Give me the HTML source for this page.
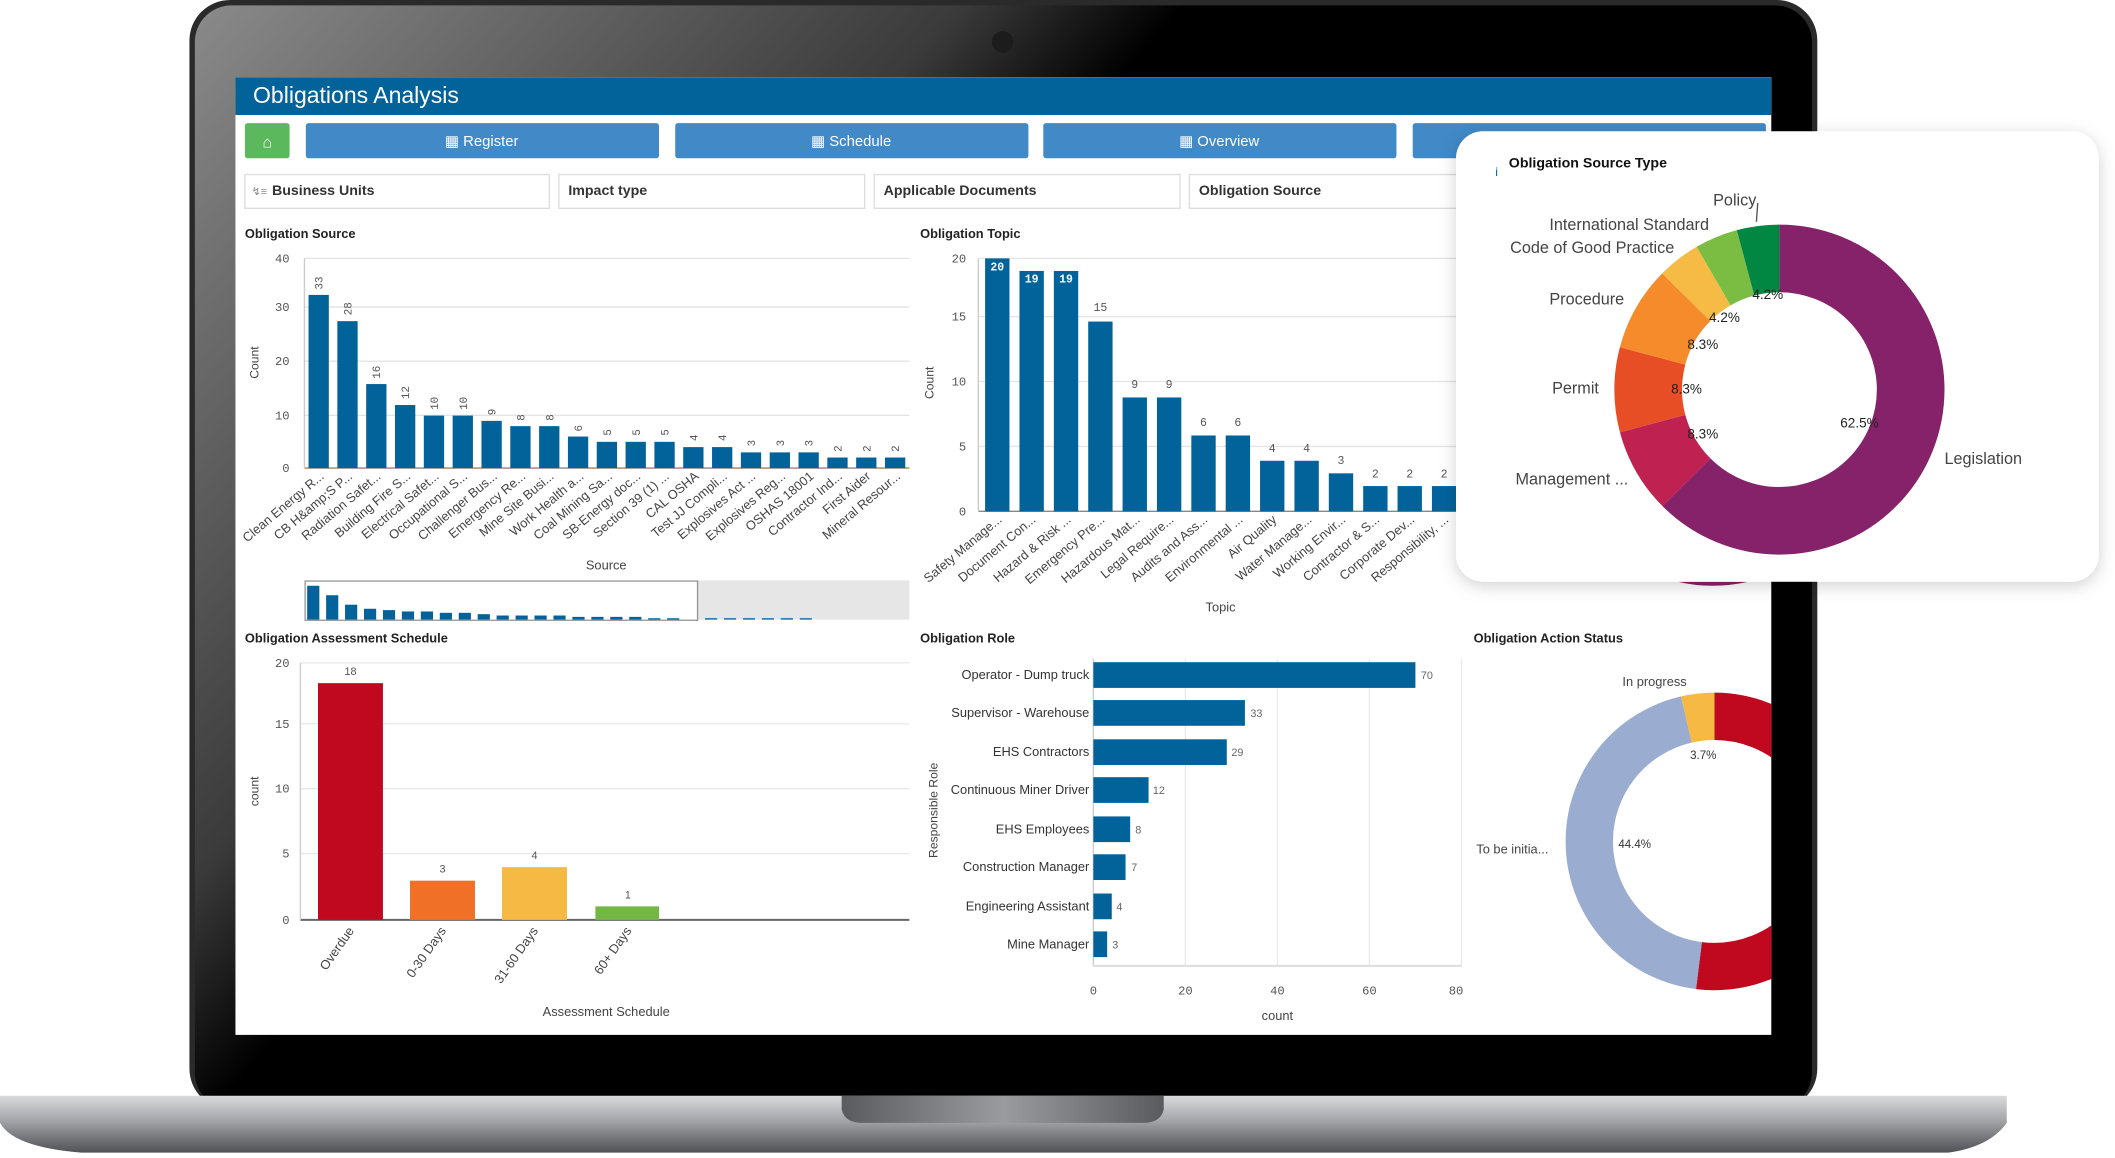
<!DOCTYPE html>
<html><head><meta charset="utf-8"><style>
html,body{margin:0;padding:0;background:#fff;}
svg{display:block;font-family:"Liberation Sans Narrow","Liberation Sans",sans-serif;}
</style></head><body>
<svg width="2115" height="1158" viewBox="0 0 1563 856" preserveAspectRatio="none" xmlns="http://www.w3.org/2000/svg">
<defs>
<linearGradient id="bez" x1="0" y1="0" x2="1" y2="0.6">
<stop offset="0" stop-color="#8a8a8a"/><stop offset="0.35" stop-color="#3a3a3a"/><stop offset="0.45" stop-color="#000"/><stop offset="1" stop-color="#000"/></linearGradient>
<linearGradient id="base" x1="0" y1="0" x2="0" y2="1">
<stop offset="0" stop-color="#d9dadc"/><stop offset="0.4" stop-color="#a9aaad"/><stop offset="0.7" stop-color="#7b7c80"/><stop offset="1" stop-color="#505155"/></linearGradient>
<linearGradient id="notch" x1="0" y1="0" x2="1" y2="0">
<stop offset="0" stop-color="#5a5b5e"/><stop offset="0.5" stop-color="#9a9b9e"/><stop offset="1" stop-color="#5a5b5e"/></linearGradient>
<clipPath id="scr"><rect x="174" y="57" width="1135" height="708"/></clipPath>
<filter id="sh" x="-10%" y="-10%" width="120%" height="130%"><feDropShadow dx="0" dy="3" stdDeviation="6" flood-color="#000" flood-opacity="0.18"/></filter>
</defs>
<!-- laptop -->
<rect x="140" y="0" width="1203" height="820" rx="30" fill="#2a2a2a"/>
<rect x="144" y="4" width="1195" height="816" rx="27" fill="url(#bez)"/>
<circle cx="741" cy="31" r="8" fill="#1c1c1c"/>
<path d="M0 810 L1483 810 L1483 830 Q1470 848 1440 852 L60 852 Q10 848 0 830 Z" fill="url(#base)"/>
<path d="M622 810 L860 810 L860 820 Q858 830 845 830 L637 830 Q624 830 622 820 Z" fill="url(#notch)"/>
<!-- screen -->
<rect x="174" y="57" width="1135" height="708" fill="#fff"/>
<g clip-path="url(#scr)">
<rect x="174" y="57" width="1135" height="28" fill="#02639b"/>
<text x="187" y="76" font-size="17" fill="#fff">Obligations Analysis</text>
<rect x="181" y="91" width="33" height="26" rx="2" fill="#5cb85c"/>
<text x="197.5" y="109" font-size="12" fill="#fff" text-anchor="middle">⌂</text>
<g font-size="11" fill="#fff" text-anchor="middle">
<rect x="226" y="91" width="261" height="26" rx="2" fill="#4189c7"/><text x="356" y="108">▦ Register</text>
<rect x="499" y="91" width="261" height="26" rx="2" fill="#4189c7"/><text x="629" y="108">▦ Schedule</text>
<rect x="771" y="91" width="261" height="26" rx="2" fill="#4189c7"/><text x="901" y="108">▦ Overview</text>
<rect x="1044" y="91" width="261" height="26" rx="2" fill="#4189c7"/>
</g>
<g font-size="10.5" fill="#333" font-weight="bold">
<rect x="181" y="129" width="225" height="25" fill="#fff" stroke="#ddd"/><text x="201" y="144">Business Units</text><text x="186" y="144" font-size="8" fill="#888" font-weight="normal">↯≡</text>
<rect x="413" y="129" width="226" height="25" fill="#fff" stroke="#ddd"/><text x="420" y="144">Impact type</text>
<rect x="646" y="129" width="226" height="25" fill="#fff" stroke="#ddd"/><text x="653" y="144">Applicable Documents</text>
<rect x="879" y="129" width="226" height="25" fill="#fff" stroke="#ddd"/><text x="886" y="144">Obligation Source</text>
</g>
<!-- chart 1 -->
<text x="181" y="176" font-size="9.5" font-weight="bold" fill="#222">Obligation Source</text>
<g stroke="#e4e4e4" stroke-width="1"><line x1="225" y1="191" x2="672" y2="191"/><line x1="225" y1="227" x2="672" y2="227"/><line x1="225" y1="267" x2="672" y2="267"/><line x1="225" y1="307" x2="672" y2="307"/></g>
<line x1="225" y1="346" x2="672" y2="346" stroke="#888"/>
<line x1="225" y1="191" x2="225" y2="346" stroke="#ccc"/>
<g font-size="9" fill="#555" font-family="Liberation Mono,monospace" text-anchor="end"><text x="214" y="194">40</text><text x="214" y="230">30</text><text x="214" y="270">20</text><text x="214" y="310">10</text><text x="214" y="349">0</text></g>
<text transform="translate(191 268) rotate(-90)" font-size="9" fill="#444" text-anchor="middle">Count</text>
<g fill="#02639b">
<rect x="228" y="218" width="15" height="128"/><rect x="249.3" y="237.4" width="15" height="108.6"/><rect x="270.6" y="283.9" width="15" height="62.1"/><rect x="291.9" y="299.4" width="15" height="46.6"/><rect x="313.2" y="307.2" width="15" height="38.8"/><rect x="334.5" y="307.2" width="15" height="38.8"/><rect x="355.8" y="311.1" width="15" height="34.9"/><rect x="377.1" y="315" width="15" height="31"/><rect x="398.4" y="315" width="15" height="31"/><rect x="419.7" y="322.7" width="15" height="23.3"/><rect x="441" y="326.6" width="15" height="19.4"/><rect x="462.3" y="326.6" width="15" height="19.4"/><rect x="483.6" y="326.6" width="15" height="19.4"/><rect x="504.9" y="330.5" width="15" height="15.5"/><rect x="526.2" y="330.5" width="15" height="15.5"/><rect x="547.5" y="334.4" width="15" height="11.6"/><rect x="568.8" y="334.4" width="15" height="11.6"/><rect x="590.1" y="334.4" width="15" height="11.6"/><rect x="611.4" y="338.2" width="15" height="7.8"/><rect x="632.7" y="338.2" width="15" height="7.8"/><rect x="654" y="338.2" width="15" height="7.8"/>
</g>
<g font-size="8" fill="#555" font-family="Liberation Mono,monospace">
<text transform="translate(238.5 214) rotate(-90)">33</text><text transform="translate(259.8 233) rotate(-90)">28</text><text transform="translate(281 280) rotate(-90)">16</text><text transform="translate(302.4 295) rotate(-90)">12</text><text transform="translate(323.7 303) rotate(-90)">10</text><text transform="translate(345 303) rotate(-90)">10</text><text transform="translate(366.3 307) rotate(-90)">9</text><text transform="translate(387.6 311) rotate(-90)">8</text><text transform="translate(408.9 311) rotate(-90)">8</text><text transform="translate(430.2 319) rotate(-90)">6</text><text transform="translate(451.5 322) rotate(-90)">5</text><text transform="translate(472.8 322) rotate(-90)">5</text><text transform="translate(494.1 322) rotate(-90)">5</text><text transform="translate(515.4 326) rotate(-90)">4</text><text transform="translate(536.7 326) rotate(-90)">4</text><text transform="translate(558 330) rotate(-90)">3</text><text transform="translate(579.3 330) rotate(-90)">3</text><text transform="translate(600.6 330) rotate(-90)">3</text><text transform="translate(621.9 334) rotate(-90)">2</text><text transform="translate(643.2 334) rotate(-90)">2</text><text transform="translate(664.5 334) rotate(-90)">2</text>
</g>
<g font-size="9.5" fill="#444" text-anchor="end">
<text transform="translate(240 353) rotate(-40)">Clean Energy R...</text><text transform="translate(261 353) rotate(-40)">CB H&amp;amp;S P...</text><text transform="translate(282 353) rotate(-40)">Radiation Safet...</text><text transform="translate(304 353) rotate(-40)">Building Fire S...</text><text transform="translate(325 353) rotate(-40)">Electrical Safet...</text><text transform="translate(346 353) rotate(-40)">Occupational S...</text><text transform="translate(368 353) rotate(-40)">Challenger Bus...</text><text transform="translate(389 353) rotate(-40)">Emergency Re...</text><text transform="translate(410 353) rotate(-40)">Mine Site Busi...</text><text transform="translate(432 353) rotate(-40)">Work Health a...</text><text transform="translate(453 353) rotate(-40)">Coal Mining Sa...</text><text transform="translate(474 353) rotate(-40)">SB-Energy doc...</text><text transform="translate(495 353) rotate(-40)">Section 39 (1) ...</text><text transform="translate(517 353) rotate(-40)">CAL OSHA</text><text transform="translate(538 353) rotate(-40)">Test JJ Compli...</text><text transform="translate(559 353) rotate(-40)">Explosives Act ...</text><text transform="translate(581 353) rotate(-40)">Explosives Reg...</text><text transform="translate(602 353) rotate(-40)">OSHAS 18001</text><text transform="translate(623 353) rotate(-40)">Contractor Ind...</text><text transform="translate(644 353) rotate(-40)">First Aider</text><text transform="translate(666 353) rotate(-40)">Mineral Resour...</text>
</g>
<text x="448" y="421" font-size="9.5" fill="#444" text-anchor="middle">Source</text>
<rect x="515" y="429" width="157" height="29" fill="#e6e6e6"/>
<rect x="225.5" y="429.5" width="290" height="29" fill="none" stroke="#999"/>
<g fill="#02639b"><rect x="227" y="433" width="9" height="25"/><rect x="241" y="440" width="9" height="18"/><rect x="255" y="447" width="9" height="11"/><rect x="269" y="450" width="9" height="8"/><rect x="283" y="451" width="9" height="7"/><rect x="297" y="452" width="9" height="6"/><rect x="311" y="452" width="9" height="6"/><rect x="325" y="453" width="9" height="5"/><rect x="339" y="453" width="9" height="5"/><rect x="353" y="454" width="9" height="4"/><rect x="367" y="455" width="9" height="3"/><rect x="381" y="455" width="9" height="3"/><rect x="395" y="455" width="9" height="3"/><rect x="409" y="455" width="9" height="3"/><rect x="423" y="456" width="9" height="2"/><rect x="437" y="456" width="9" height="2"/><rect x="451" y="456" width="9" height="2"/><rect x="465" y="456" width="9" height="2"/><rect x="479" y="457" width="9" height="1"/><rect x="493" y="457" width="9" height="1"/><rect x="521" y="457" width="9" height="1"/><rect x="535" y="457" width="9" height="1"/><rect x="549" y="457" width="9" height="1"/><rect x="563" y="457" width="9" height="1"/><rect x="577" y="457" width="9" height="1"/><rect x="591" y="457" width="9" height="1"/></g>
<!-- chart 2 -->
<text x="680" y="176" font-size="9.5" font-weight="bold" fill="#222">Obligation Topic</text>
<g stroke="#e4e4e4"><line x1="723" y1="191" x2="1080" y2="191"/><line x1="723" y1="234" x2="1080" y2="234"/><line x1="723" y1="282" x2="1080" y2="282"/><line x1="723" y1="330" x2="1080" y2="330"/></g>
<line x1="723" y1="378" x2="1080" y2="378" stroke="#888"/>
<line x1="723" y1="191" x2="723" y2="378" stroke="#ccc"/>
<g font-size="9" fill="#555" font-family="Liberation Mono,monospace" text-anchor="end"><text x="714" y="194">20</text><text x="714" y="237">15</text><text x="714" y="285">10</text><text x="714" y="333">5</text><text x="714" y="381">0</text></g>
<text transform="translate(690 283) rotate(-90)" font-size="9" fill="#444" text-anchor="middle">Count</text>
<g fill="#02639b">
<rect x="728" y="191" width="18" height="187"/><rect x="753.4" y="200.3" width="18" height="177.7"/><rect x="778.8" y="200.3" width="18" height="177.7"/><rect x="804.2" y="237.7" width="18" height="140.3"/><rect x="829.6" y="293.8" width="18" height="84.2"/><rect x="855" y="293.8" width="18" height="84.2"/><rect x="880.4" y="321.9" width="18" height="56.1"/><rect x="905.8" y="321.9" width="18" height="56.1"/><rect x="931.2" y="340.6" width="18" height="37.4"/><rect x="956.6" y="340.6" width="18" height="37.4"/><rect x="982" y="349.9" width="18" height="28.1"/><rect x="1007.4" y="359.3" width="18" height="18.7"/><rect x="1032.8" y="359.3" width="18" height="18.7"/><rect x="1058.2" y="359.3" width="18" height="18.7"/>
</g>
<g font-size="8.5" text-anchor="middle" font-family="Liberation Mono,monospace">
<g fill="#fff" font-weight="bold"><text x="737" y="200">20</text><text x="762.4" y="209">19</text><text x="787.8" y="209">19</text></g>
<g fill="#555"><text x="813.2" y="230">15</text><text x="838.6" y="287">9</text><text x="864" y="287">9</text><text x="889.4" y="315">6</text><text x="914.8" y="315">6</text><text x="940.2" y="334">4</text><text x="965.6" y="334">4</text><text x="991" y="343">3</text><text x="1016.4" y="353">2</text><text x="1041.8" y="353">2</text><text x="1067.2" y="353">2</text></g>
</g>
<g font-size="9.5" fill="#444" text-anchor="end">
<text transform="translate(741 385) rotate(-40)">Safety Manage...</text><text transform="translate(766 385) rotate(-40)">Document Con...</text><text transform="translate(792 385) rotate(-40)">Hazard &amp; Risk ...</text><text transform="translate(817 385) rotate(-40)">Emergency Pre...</text><text transform="translate(843 385) rotate(-40)">Hazardous Mat...</text><text transform="translate(868 385) rotate(-40)">Legal Require...</text><text transform="translate(893 385) rotate(-40)">Audits and Ass...</text><text transform="translate(919 385) rotate(-40)">Environmental ...</text><text transform="translate(944 385) rotate(-40)">Air Quality</text><text transform="translate(970 385) rotate(-40)">Water Manage...</text><text transform="translate(995 385) rotate(-40)">Working Envir...</text><text transform="translate(1020 385) rotate(-40)">Contractor &amp; S...</text><text transform="translate(1046 385) rotate(-40)">Corporate Dev...</text><text transform="translate(1071 385) rotate(-40)">Responsibility, ...</text>
</g>
<text x="902" y="452" font-size="9.5" fill="#444" text-anchor="middle">Topic</text>
<!-- chart 3 -->
<text x="181" y="475" font-size="9.5" font-weight="bold" fill="#222">Obligation Assessment Schedule</text>
<g stroke="#e8e8e8"><line x1="222" y1="490" x2="672" y2="490"/><line x1="222" y1="535" x2="672" y2="535"/><line x1="222" y1="583" x2="672" y2="583"/><line x1="222" y1="631" x2="672" y2="631"/></g>
<line x1="222" y1="680" x2="672" y2="680" stroke="#666" stroke-width="1.5"/>
<line x1="222" y1="490" x2="222" y2="680" stroke="#ccc"/>
<g font-size="9" fill="#555" font-family="Liberation Mono,monospace" text-anchor="end"><text x="214" y="493">20</text><text x="214" y="538">15</text><text x="214" y="586">10</text><text x="214" y="634">5</text><text x="214" y="683">0</text></g>
<text transform="translate(191 585) rotate(-90)" font-size="9" fill="#444" text-anchor="middle">count</text>
<rect x="235" y="505" width="48" height="175" fill="#c0091f"/>
<rect x="303" y="651" width="48" height="29" fill="#f07028"/>
<rect x="371" y="641" width="48" height="39" fill="#f6b944"/>
<rect x="440" y="670" width="47" height="10" fill="#73b843"/>
<g font-size="8" fill="#555" text-anchor="middle"><text x="259" y="499">18</text><text x="327" y="645">3</text><text x="395" y="635">4</text><text x="464" y="664">1</text></g>
<g font-size="9.5" fill="#444" text-anchor="end">
<text transform="translate(262 688) rotate(-55)">Overdue</text><text transform="translate(330 688) rotate(-55)">0-30 Days</text><text transform="translate(398 688) rotate(-55)">31-60 Days</text><text transform="translate(467 688) rotate(-55)">60+ Days</text>
</g>
<text x="448" y="751" font-size="9.5" fill="#444" text-anchor="middle">Assessment Schedule</text>
<!-- chart 4 -->
<text x="680" y="475" font-size="9.5" font-weight="bold" fill="#222">Obligation Role</text>
<g stroke="#eaeaea"><line x1="876" y1="487" x2="876" y2="714"/><line x1="944" y1="487" x2="944" y2="714"/><line x1="1012" y1="487" x2="1012" y2="714"/><line x1="1080" y1="487" x2="1080" y2="714"/></g>
<line x1="808" y1="487" x2="808" y2="714" stroke="#ccc"/>
<line x1="808" y1="714" x2="1080" y2="714" stroke="#ddd" stroke-width="1.5"/>
<g fill="#02639b"><rect x="808" y="489.5" width="238" height="19"/><rect x="808" y="517.5" width="112" height="19"/><rect x="808" y="546.5" width="98.6" height="19"/><rect x="808" y="574.5" width="40.8" height="19"/><rect x="808" y="603.5" width="27.2" height="19"/><rect x="808" y="631.5" width="23.8" height="19"/><rect x="808" y="660.5" width="13.6" height="19"/><rect x="808" y="688.5" width="10.2" height="19"/></g>
<g font-size="9.5" fill="#333" text-anchor="end"><text x="805" y="502">Operator - Dump truck</text><text x="805" y="530">Supervisor - Warehouse</text><text x="805" y="559">EHS Contractors</text><text x="805" y="587">Continuous Miner Driver</text><text x="805" y="616">EHS Employees</text><text x="805" y="644">Construction Manager</text><text x="805" y="673">Engineering Assistant</text><text x="805" y="701">Mine Manager</text></g>
<g font-size="8" fill="#666"><text x="1050" y="502">70</text><text x="924" y="530">33</text><text x="910" y="559">29</text><text x="852" y="587">12</text><text x="839" y="616">8</text><text x="836" y="644">7</text><text x="825" y="673">4</text><text x="822" y="701">3</text></g>
<g font-size="9" fill="#555" font-family="Liberation Mono,monospace" text-anchor="middle"><text x="808" y="735">0</text><text x="876" y="735">20</text><text x="944" y="735">40</text><text x="1012" y="735">60</text><text x="1076" y="735">80</text></g>
<text x="944" y="754" font-size="9.5" fill="#444" text-anchor="middle">count</text>
<text transform="translate(693 599) rotate(-90)" font-size="9" fill="#444" text-anchor="middle">Responsible Role</text>
<!-- chart 5 -->
<text x="1089" y="475" font-size="9.5" font-weight="bold" fill="#222">Obligation Action Status</text>
<g transform="rotate(-90 1267 622)" fill="none" stroke-width="35">
<circle cx="1267" cy="622" r="92.5" stroke="#c0091f" stroke-dasharray="302 1000"/>
<circle cx="1267" cy="622" r="92.5" stroke="#9aaccf" stroke-dasharray="258 1000" stroke-dashoffset="-302"/>
<circle cx="1267" cy="622" r="92.5" stroke="#f6b944" stroke-dasharray="21.5 1000" stroke-dashoffset="-560"/>
</g>
<g font-size="9.5" fill="#444"><text x="1199" y="507">In progress</text><text x="1091" y="631">To be initia...</text></g>
<g font-size="8.5" fill="#333"><text x="1249" y="561">3.7%</text><text x="1196" y="627">44.4%</text></g>
<path d="M1240 430 Q1265 436 1292 430 Z" fill="#86226a"/>
</g>
<!-- popup -->
<rect x="1076" y="97" width="475" height="333" rx="20" fill="#fff" filter="url(#sh)"/>
<text x="1105" y="130" font-size="9" fill="#02639b">i</text>
<text x="1115" y="124" font-size="10.5" font-weight="bold" fill="#111">Obligation Source Type</text>
<g transform="rotate(-90 1315 288)" fill="none" stroke-width="50">
<circle cx="1315" cy="288" r="97" stroke="#86226a" stroke-dasharray="380.9 1000"/>
<circle cx="1315" cy="288" r="97" stroke="#bf2150" stroke-dasharray="50.6 1000" stroke-dashoffset="-380.9"/>
<circle cx="1315" cy="288" r="97" stroke="#e84e25" stroke-dasharray="50.6 1000" stroke-dashoffset="-431.5"/>
<circle cx="1315" cy="288" r="97" stroke="#f58b2b" stroke-dasharray="50.6 1000" stroke-dashoffset="-482.1"/>
<circle cx="1315" cy="288" r="97" stroke="#f5bb45" stroke-dasharray="25.6 1000" stroke-dashoffset="-532.7"/>
<circle cx="1315" cy="288" r="97" stroke="#7bbd42" stroke-dasharray="25.6 1000" stroke-dashoffset="-558.3"/>
<circle cx="1315" cy="288" r="97" stroke="#018742" stroke-dasharray="25.6 1000" stroke-dashoffset="-583.9"/>
</g>
<line x1="1299" y1="150" x2="1298" y2="164" stroke="#555"/>
<g font-size="12" fill="#444"><text x="1266" y="152">Policy</text><text x="1145" y="170">International Standard</text><text x="1116" y="187">Code of Good Practice</text><text x="1145" y="225">Procedure</text><text x="1147" y="291">Permit</text><text x="1120" y="358">Management ...</text><text x="1437" y="343">Legislation</text></g>
<g font-size="10" fill="#222"><text x="1295" y="221">4.2%</text><text x="1263" y="238">4.2%</text><text x="1247" y="258">8.3%</text><text x="1235" y="291">8.3%</text><text x="1247" y="324">8.3%</text><text x="1360" y="316">62.5%</text></g>
</svg>
</body></html>
